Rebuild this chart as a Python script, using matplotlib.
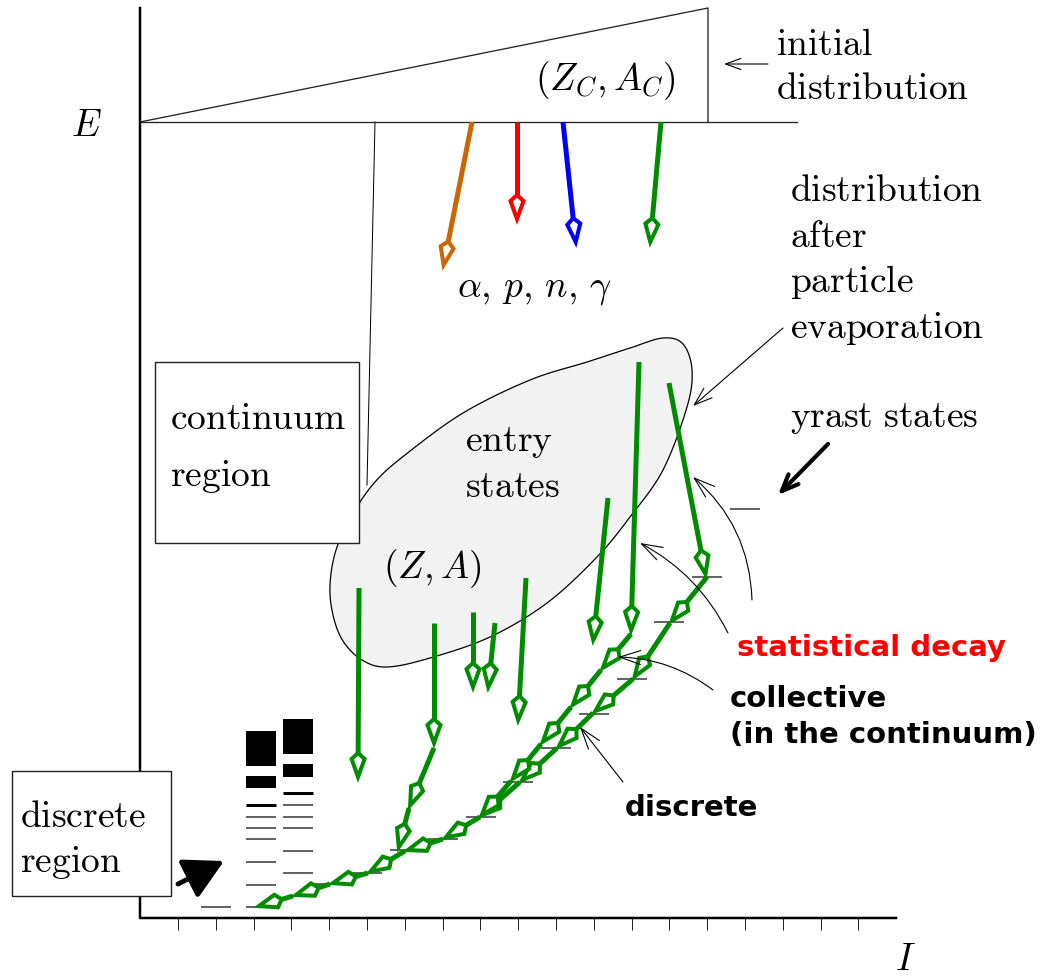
import numpy as np
import matplotlib
matplotlib.use('Agg')
import matplotlib.pyplot as plt
from matplotlib.patches import Polygon, Rectangle, FancyArrowPatch

plt.rcParams['mathtext.fontset'] = 'cm'

GREEN = '#008c00'

# particle emission from the compound nucleus (top line -> tips)
evap_x0 = [472, 517, 563, 661]
evap_x1 = [443, 517, 576, 650]
evap_y1 = [268, 222, 245, 245]
evap_colors = ['#cc6600', '#ff0000', '#0000ff', GREEN]

# statistical gammas leaving the entry states
entry_x0 = [359, 434, 473, 495, 526, 608, 639, 669]
entry_y0 = [588, 623, 612, 623, 578, 498, 362, 383]
entry_x1 = [358, 434, 473, 488, 518, 593, 631, 706]
entry_y1 = [780, 746, 690, 690, 723, 643, 633, 577]

# cascades (level positions, top to bottom)
yrast_x = [707, 670, 633, 593, 557, 520, 480, 443, 405, 368, 330, 293, 256]
yrast_y = [577, 623, 679, 713, 748, 782, 817, 839, 851, 873, 884, 896, 907]
coll_x = [631, 601, 571, 541, 511, 480]
coll_y = [634, 670, 707, 744, 781, 817]
side_x = [434, 409, 398]
side_y = [748, 808, 850]

# yrast levels (centre x, y)
dash_x = [216, 328, 367, 405, 443, 481, 518, 556, 594, 632, 669, 707, 745]
dash_y = [907, 884, 873, 850, 839, 817, 782, 748, 714, 679, 622, 577, 509]

# low-lying discrete level schemes
col1_blocks = [(731, 766), (776, 788)]
col1_thick = [805]
col1_lines = [817, 828, 839, 862, 885, 907]
col2_blocks = [(719, 754), (764, 777)]
col2_thick = [793]
col2_lines = [805, 817, 828, 851, 873]

spins = np.arange(19)

# entry-state region outline
blob_x = [330, 336, 352, 375, 405, 463, 530, 587, 630, 663, 683, 692, 687, 663,
          630, 597, 547, 490, 430, 387, 362, 343, 333]
blob_y = [585, 550, 515, 482, 455, 413, 380, 362, 348, 338, 344, 370, 407, 470,
          517, 557, 603, 637, 658, 667, 660, 641, 615]

fig = plt.figure(figsize=(10.43, 9.8), dpi=100)
ax = fig.add_axes([0, 0, 1, 1])
ax.set_xlim(0, 1043)
ax.set_ylim(980, 0)
ax.axis('off')

PX = 0.72  # points per pixel


def closed_spline(px, py, n=20):
    p = np.column_stack([px, py]).astype(float)
    m = len(p)
    t = np.linspace(0, 1, n, endpoint=False)[:, None]
    out = []
    for i in range(m):
        p0, p1, p2, p3 = p[i - 1], p[i], p[(i + 1) % m], p[(i + 2) % m]
        out.append(0.5 * (2 * p1 + (-p0 + p2) * t + (2 * p0 - 5 * p1 + 4 * p2 - p3) * t ** 2
                          + (-p0 + 3 * p1 - 3 * p2 + p3) * t ** 3))
    return np.vstack(out)


def kite_arrow(x0, y0, x1, y1, color, lw=5, length=24, width=13):
    d = np.array([x1 - x0, y1 - y0], float)
    u = d / np.hypot(*d)
    n = np.array([-u[1], u[0]])
    tip = np.array([x1, y1], float) - u * 3
    back = tip - u * length
    mid = tip - u * length * 0.75
    ax.plot([x0, back[0]], [y0, back[1]], color=color, lw=lw * PX,
            solid_capstyle='butt', zorder=4)
    pts = [tip, mid + n * width / 2, back, mid - n * width / 2]
    ax.add_patch(Polygon(pts, closed=True, fc='white', ec=color, lw=2.9,
                         joinstyle='miter', zorder=5))


def line_arrow(x0, y0, x1, y1, rad=0.0, lw=0.8, hl=13, hw=4.5, style='->'):
    ax.add_patch(FancyArrowPatch((x0, y0), (x1, y1),
                                 arrowstyle=f'{style},head_length={hl},head_width={hw}',
                                 connectionstyle=f'arc3,rad={rad}', lw=lw,
                                 color='black', shrinkA=0, shrinkB=0, zorder=6))


def serif(x, y, s, size=27, ha='left', color='black'):
    ax.text(x, y, s, fontsize=size, ha=ha, va='baseline', color=color, zorder=7)


def sans(x, y, s, size=21, color='black'):
    ax.text(x, y, s, fontsize=size, ha='left', va='baseline', color=color,
            family='DejaVu Sans', fontweight='bold', zorder=7)


# axes
ax.plot([140, 140, 896], [8, 918, 918], color='black', lw=2.5 * PX, zorder=3)
tick_px = 178 + 37.8 * spins
ax.vlines(tick_px, 918, 930, color='#222222', lw=1.0 * PX)
serif(86, 136, r'$E$', ha='center')
serif(905, 970, r'$I$', ha='center')

# initial distribution of the compound nucleus
ax.plot([140, 797], [122, 122], color='#222222', lw=1.3 * PX, zorder=3)
ax.plot([140, 708, 708], [122, 8, 122], color='#222222', lw=1.3 * PX, zorder=3)
ax.plot([375, 367], [122, 485], color='black', lw=1.0 * PX, zorder=1)
serif(605, 90, r'$(Z_C, A_C)$', ha='center')
serif(776, 55, r'$\mathrm{initial}$')
serif(776, 99, r'$\mathrm{distribution}$')
line_arrow(768, 64, 724, 64, lw=0.8, hl=11, hw=4)

for x0, x1, y1, c in zip(evap_x0, evap_x1, evap_y1, evap_colors):
    kite_arrow(x0, 122, x1, y1, c)
serif(535, 296, r'$\alpha,\, p,\, n,\, \gamma$', ha='center')

serif(790, 201, r'$\mathrm{distribution}$')
serif(790, 247, r'$\mathrm{after}$')
serif(790, 292, r'$\mathrm{particle}$')
serif(790, 338, r'$\mathrm{evaporation}$')
line_arrow(783, 328, 693, 406, lw=0.8, hl=13, hw=4.5)

# entry states
bx = closed_spline(blob_x, blob_y)
ax.add_patch(Polygon(bx, closed=True, fc='#f2f2f2', ec='black', lw=0.9, zorder=1))
serif(465, 451, r'$\mathrm{entry}$')
serif(465, 497, r'$\mathrm{states}$')
serif(432, 578, r'$(Z, A)$', ha='center')

# region boxes
ax.add_patch(Rectangle((155, 362), 204, 181, fc='white', ec='#222222', lw=1.0, zorder=2))
serif(170, 429, r'$\mathrm{continuum}$')
serif(170, 486, r'$\mathrm{region}$')
ax.add_patch(Rectangle((12, 771), 159, 125, fc='white', ec='#222222', lw=1.0, zorder=3.5))
serif(20, 827, r'$\mathrm{discrete}$')
serif(20, 872, r'$\mathrm{region}$')
line_arrow(178, 884, 224, 861, lw=3.5, hl=24, hw=13, style='-|>')

# level schemes near the ground state
for (xa, xb), blocks, thick, thin in [((246, 276), col1_blocks, col1_thick, col1_lines),
                                      ((283, 313), col2_blocks, col2_thick, col2_lines)]:
    for ya, yb in blocks:
        ax.add_patch(Rectangle((xa, ya), xb - xa, yb - ya, fc='black', ec='none', zorder=3))
    ax.hlines(thick, xa, xb, color='black', lw=3 * PX, zorder=3)
    ax.hlines(thin, xa, xb, color='#333333', lw=1.5 * PX, zorder=3)
ax.hlines(dash_y, np.array(dash_x) - 15, np.array(dash_x) + 15, color='#333333',
          lw=1.5 * PX, zorder=3)

# gamma decay
for x0, y0, x1, y1 in zip(entry_x0, entry_y0, entry_x1, entry_y1):
    kite_arrow(x0, y0, x1, y1, GREEN)
for xs, ys in [(yrast_x, yrast_y), (coll_x, coll_y), (side_x, side_y)]:
    for i in range(len(xs) - 1):
        kite_arrow(xs[i], ys[i], xs[i + 1], ys[i + 1], GREEN)

# annotations
serif(790, 427, r'$\mathrm{yrast\ states}$')
line_arrow(828, 444, 778, 495, lw=3.0, hl=12, hw=5)
sans(737, 656, 'statistical decay', color='#ff0000')
line_arrow(752, 600, 693, 477, rad=0.22, hl=15, hw=5)
line_arrow(728, 633, 640, 543, rad=0.16, hl=15, hw=5)
sans(730, 707, 'collective')
sans(730, 743, '(in the continuum)')
line_arrow(713, 690, 618, 657, rad=0.16, hl=15, hw=5)
sans(625, 816, 'discrete')
line_arrow(623, 782, 580, 727, rad=0.0, hl=15, hw=5)

fig.savefig('out.png', dpi=100)
